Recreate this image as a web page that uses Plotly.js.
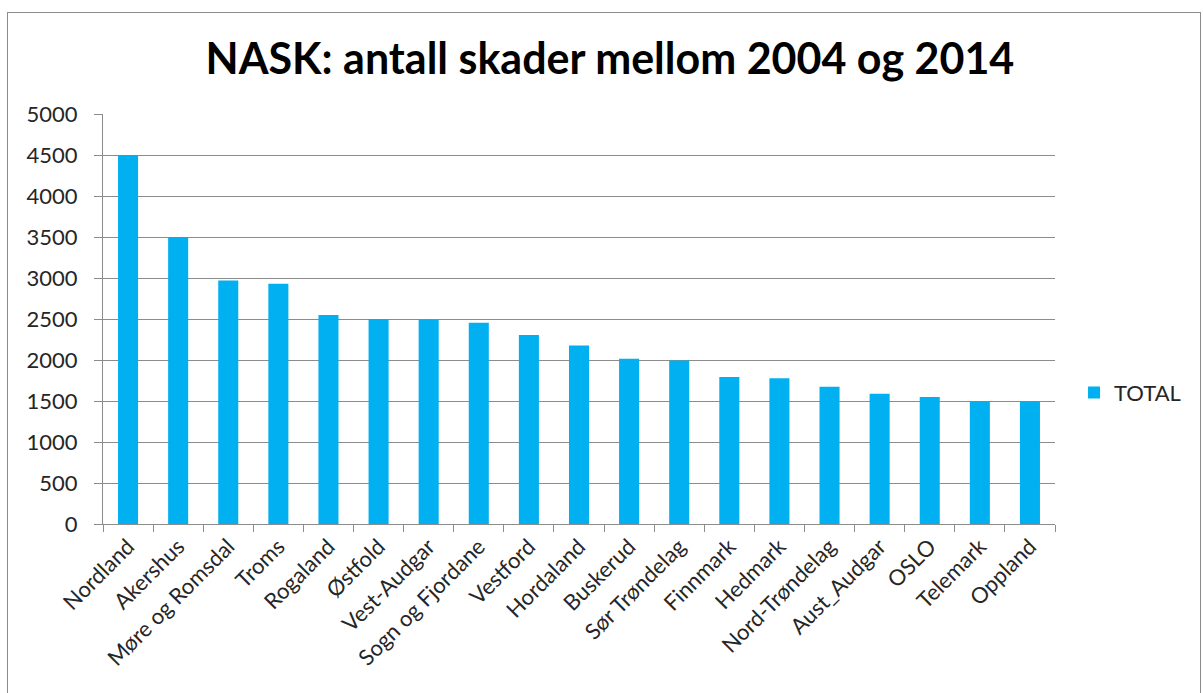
<!DOCTYPE html>
<html>
<head>
<meta charset="utf-8">
<script src="https://cdn.plot.ly/plotly-3.0.1.min.js"></script>
<style>
  html, body { margin: 0; padding: 0; background: #fff; overflow: hidden; }
  #frame { position: absolute; left: 7px; top: 12px; width: 1194px; height: 700px;
           border: 1px solid #8c8c8c; box-sizing: border-box; }
  #chart { position: absolute; left: 0; top: 0; width: 1203px; height: 693px; }
</style>
</head>
<body>
<div id="frame"></div>
<div id="chart"></div>
<script>
const fylker = [
  'Nordland', 'Akershus', 'Møre og Romsdal', 'Troms', 'Rogaland', 'Østfold',
  'Vest-Audgar', 'Sogn og Fjordane', 'Vestford', 'Hordaland', 'Buskerud',
  'Sør Trøndelag', 'Finnmark', 'Hedmark', 'Nord-Trøndelag', 'Aust_Audgar',
  'OSLO', 'Telemark', 'Oppland'
];
const total = [
  4500, 3500, 2970, 2930, 2550, 2500,
  2495, 2455, 2305, 2178, 2015,
  1995, 1793, 1776, 1675, 1589,
  1549, 1500, 1498
];
const yTicks = [0, 500, 1000, 1500, 2000, 2500, 3000, 3500, 4000, 4500, 5000];

const baseFont = "Lato, 'Open Sans', sans-serif";
const textColor = '#262626';

const data = [{
  type: 'bar',
  name: 'TOTAL',
  x: fylker,
  y: total,
  marker: { color: '#00B0F0', line: { width: 0 } },
  hoverinfo: 'x+y',
}];

const layout = {
  width: 1203,
  height: 693,
  paper_bgcolor: 'rgba(0,0,0,0)',
  plot_bgcolor: 'rgba(0,0,0,0)',
  margin: { l: 103, r: 148, t: 114, b: 169 },
  font: { family: baseFont, size: 22, color: textColor },
  title: {
    text: '<b>NASK: antall skader mellom 2004 og 2014</b>',
    font: { family: baseFont, size: 43, color: '#000' },
    x: 0.507, xanchor: 'center',
    y: 0.915, yanchor: 'middle',
  },
  xaxis: {
    type: 'category',
    tickangle: -45,
    tickson: 'boundaries',
    ticks: 'outside',
    ticklen: 7,
    tickcolor: '#8c8c8c',
    showline: true,
    linecolor: '#8c8c8c',
    linewidth: 1,
    showgrid: false,
    tickfont: { family: baseFont, size: 22, color: textColor },
  },
  yaxis: {
    range: [0, 5000],
    tickvals: yTicks,
    ticktext: yTicks.map(String),
    ticks: 'outside',
    ticklen: 8,
    tickcolor: '#8c8c8c',
    ticklabelstandoff: 12,
    showline: true,
    linecolor: '#8c8c8c',
    linewidth: 1,
    showgrid: true,
    gridcolor: '#8c8c8c',
    gridwidth: 1,
    zeroline: false,
    tickfont: { family: baseFont, size: 22, color: textColor },
  },
  bargap: 0.6,
  showlegend: true,
  legend: {
    x: 1.02, xanchor: 'left',
    y: 0.32, yanchor: 'middle',
    font: { family: baseFont, size: 22, color: textColor },
    itemwidth: 30,
    bgcolor: 'rgba(0,0,0,0)',
  },
};

Plotly.newPlot('chart', data, layout, { displayModeBar: false, responsive: false });
</script>
</body>
</html>
